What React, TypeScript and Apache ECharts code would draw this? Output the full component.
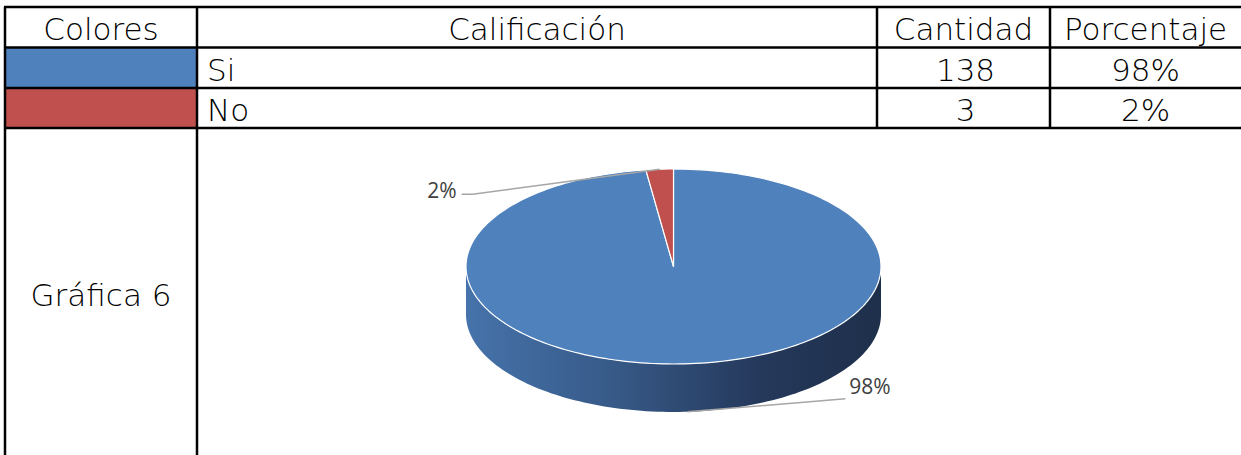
import React, { useEffect, useRef } from "react";
import * as echarts from "echarts";

const headers = ["Colores", "Calificación", "Cantidad", "Porcentaje"];
const categories = ["Si", "No"];
const counts = [138, 3];
const swatchColors = ["#4f81bd", "#c0504d"];
const chartLabel = "Gráfica 6";

const total = counts.reduce((a, b) => a + b, 0);
const percents = counts.map((v) => Math.round((v / total) * 100) + "%");

// layout
const colX = [5, 197, 877, 1050, 1241];
const rowY = [7, 47.5, 88, 128];
const tableFont = { fontSize: 31, fontFamily: '"DejaVu Sans"', fontWeight: 200 };
const pie = { cx: 673.5, cy: 266.5, rx: 207.5, ry: 97.5, depth: 48 };
const labelLayout = [
  { pts: [[0, 0], [158, -13]], tx: 162, ty: -25.5, align: "left" },
  { pts: [[0, 0], [-187, 25], [-198, 25]], tx: -203, ty: 20.5, align: "right" },
];

function pt(a: number, dy = 0) {
  const r = (a * Math.PI) / 180;
  return [pie.cx + pie.rx * Math.cos(r), pie.cy + pie.ry * Math.sin(r) + dy];
}
function arcPts(a1: number, a2: number, dy = 0) {
  const n = Math.max(2, Math.ceil(Math.abs(a2 - a1) / 1.5));
  const out: number[][] = [];
  for (let i = 0; i <= n; i++) out.push(pt(a1 + ((a2 - a1) * i) / n, dy));
  return out;
}

export default function App() {
  const ref = useRef<HTMLDivElement>(null);
  useEffect(() => {
    document.body.style.margin = "0";
    const chart = echarts.init(ref.current!, null, { renderer: "svg" });

    const starts: number[] = [];
    let acc = -90;
    counts.forEach((v) => {
      starts.push(acc);
      acc += (v / total) * 360;
    });

    const txt = (text: string, x: number, y: number, align: string) => ({
      type: "text",
      x,
      y,
      style: { text, ...tableFont, fill: "#000", textAlign: align, textVerticalAlign: "middle" },
      z: 3,
    });

    const graphics: any[] = [];
    swatchColors.forEach((c, i) => {
      graphics.push({
        type: "rect",
        shape: { x: colX[0], y: rowY[i + 1], width: colX[1] - colX[0], height: rowY[i + 2] - rowY[i + 1] },
        style: { fill: c },
        z: 1,
      });
    });
    headers.forEach((h, i) => {
      graphics.push(txt(h, (colX[i] + colX[i + 1]) / 2, (rowY[0] + rowY[1]) / 2 + 2, "center"));
    });
    categories.forEach((c, i) => {
      const yMid = (rowY[i + 1] + rowY[i + 2]) / 2 + 2;
      graphics.push(txt(c, colX[1] + 10, yMid, "left"));
      graphics.push(txt(String(counts[i]), (colX[2] + colX[3]) / 2 + 2, yMid, "center"));
      graphics.push(txt(percents[i], (colX[3] + colX[4]) / 2, yMid, "center"));
    });
    graphics.push(txt(chartLabel, (colX[0] + colX[1]) / 2, 295, "center"));

    const lw = 2.5;
    rowY.forEach((y) => {
      graphics.push({ type: "line", shape: { x1: colX[0] - 1, y1: y, x2: 1241, y2: y }, style: { stroke: "#000", lineWidth: lw }, z: 4 });
    });
    graphics.push({ type: "line", shape: { x1: colX[0], y1: rowY[0], x2: colX[0], y2: 455 }, style: { stroke: "#000", lineWidth: lw }, z: 4 });
    graphics.push({ type: "line", shape: { x1: colX[1], y1: rowY[0], x2: colX[1], y2: 455 }, style: { stroke: "#000", lineWidth: lw }, z: 4 });
    graphics.push({ type: "line", shape: { x1: colX[2], y1: rowY[0], x2: colX[2], y2: rowY[3] }, style: { stroke: "#000", lineWidth: lw }, z: 4 });
    graphics.push({ type: "line", shape: { x1: colX[3], y1: rowY[0], x2: colX[3], y2: rowY[3] }, style: { stroke: "#000", lineWidth: lw }, z: 4 });

    const sideGradient = {
      type: "linear",
      x: pie.cx - pie.rx,
      y: 0,
      x2: pie.cx + pie.rx,
      y2: 0,
      global: true,
      colorStops: [
        { offset: 0, color: "#4673ab" },
        { offset: 0.35, color: "#375a88" },
        { offset: 0.7, color: "#25395c" },
        { offset: 1, color: "#1e2f4a" },
      ],
    };
    const sideRed = {
      type: "linear",
      x: pie.cx - pie.rx,
      y: 0,
      x2: pie.cx + pie.rx,
      y2: 0,
      global: true,
      colorStops: [
        { offset: 0, color: "#a8403e" },
        { offset: 1, color: "#5a1f1e" },
      ],
    };

    const option: any = {
      animation: false,
      backgroundColor: "#fff",
      graphic: graphics,
      series: [
        {
          type: "custom",
          coordinateSystem: "none",
          data: counts,
          z: 5,
          renderItem: (params: any, api: any) => {
            const i = params.dataIndex;
            const v = api.value(0);
            const s = starts[i];
            const e = s + (v / total) * 360;
            const children: any[] = [];
            for (let k = -1; k <= 1; k++) {
              const lo = Math.max(s, k * 360);
              const hi = Math.min(e, k * 360 + 180);
              if (hi > lo) {
                const top = arcPts(lo, hi);
                const bot = arcPts(hi, lo, pie.depth);
                children.push({
                  type: "polygon",
                  shape: { points: top.concat(bot) },
                  style: { fill: i === 0 ? sideGradient : sideRed, stroke: "none" },
                });
              }
            }
            const topPts = [[pie.cx, pie.cy]].concat(arcPts(s, e));
            children.push({
              type: "polygon",
              shape: { points: topPts },
              style: { fill: swatchColors[i], stroke: "#ffffff", lineWidth: 1.2, lineJoin: "round" },
            });
            const mid = (s + e) / 2;
            const inFront = Math.sin((mid * Math.PI) / 180) > 0;
            const anchor = pt(mid, inFront ? pie.depth : 0);
            const L = labelLayout[i];
            children.push({
              type: "polyline",
              shape: { points: L.pts.map((p) => [anchor[0] + p[0], anchor[1] + p[1]]) },
              style: { stroke: "#a6a6a6", lineWidth: 1.5, fill: "none" },
            });
            children.push({
              type: "text",
              x: anchor[0] + L.tx,
              y: anchor[1] + L.ty,
              style: {
                text: percents[i],
                fontSize: 21,
                fontFamily: '"Open Sans"',
                fill: "#404040",
                textAlign: L.align,
                textVerticalAlign: "middle",
              },
            });
            return { type: "group", children };
          },
        },
      ],
    };
    chart.setOption(option);
    return () => chart.dispose();
  }, []);
  return <div ref={ref} style={{ width: 1241, height: 455 }} />;
}
